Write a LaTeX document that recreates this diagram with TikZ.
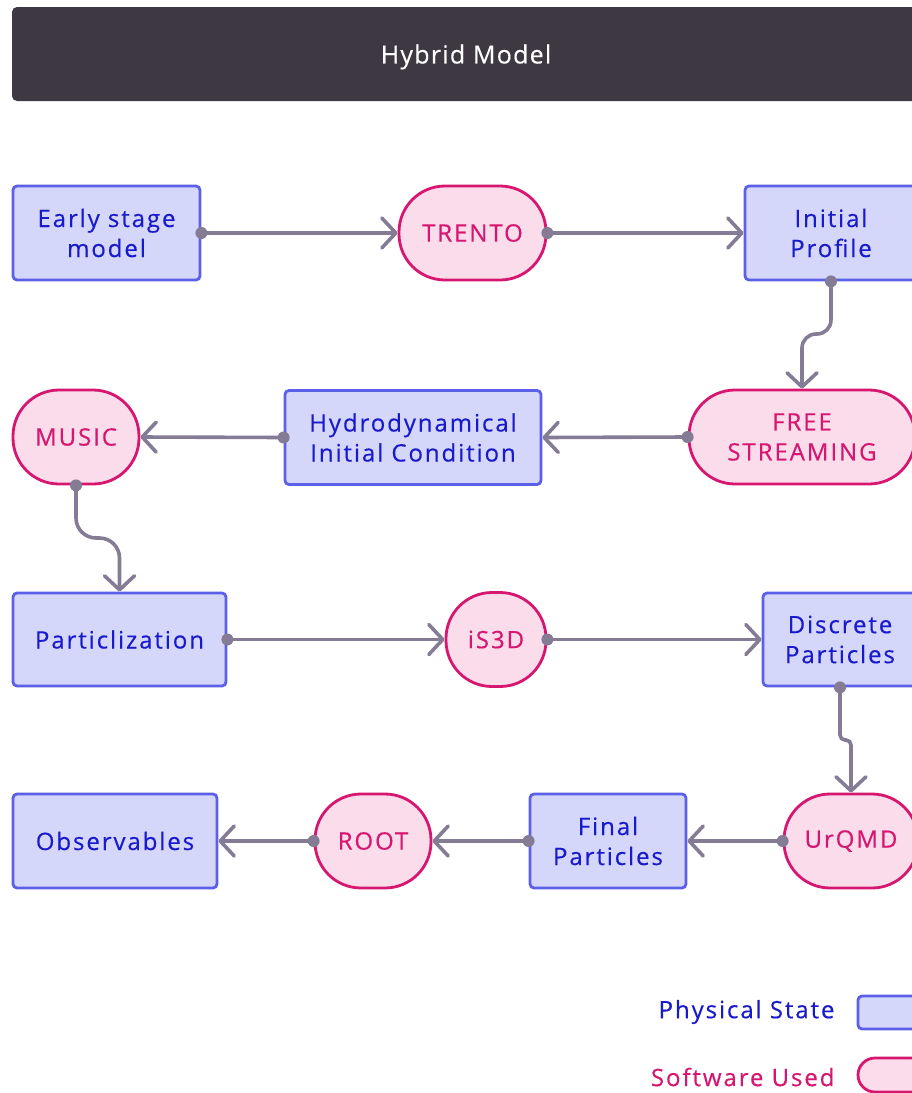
\documentclass[tikz,border=0pt]{standalone}
\usepackage{fontspec}
\setmainfont{Open Sans}
\newfontfamily\nodefont{Open Sans}[LetterSpace=8,FakeBold=0.4]
\newfontfamily\titlefont{Open Sans}[LetterSpace=5,FakeBold=0.3]
\usetikzlibrary{arrows.meta}
\definecolor{boxfill}{RGB}{212,214,250}
\definecolor{boxdraw}{RGB}{92,95,232}
\definecolor{boxtext}{RGB}{26,26,205}
\definecolor{swfill}{RGB}{250,220,235}
\definecolor{swdraw}{RGB}{214,22,111}
\definecolor{conncol}{RGB}{132,123,148}
\definecolor{titlebg}{RGB}{61,56,66}
\tikzset{
  lbl/.style={font=\nodefont\fontsize{24}{30}\selectfont},
  state/.style={lbl, draw=boxdraw, fill=boxfill, text=boxtext, line width=2.8pt, rounded corners=4pt, inner sep=0pt, align=center},
  soft/.style={lbl, draw=swdraw, fill=swfill, text=swdraw, line width=2.8pt, rounded corners=46pt, inner sep=0pt, align=center, minimum height=94pt},
  conn/.style={draw=conncol, line width=3.6pt, line cap=round, -{Straight Barb[length=14pt,width=30pt,line width=3.6pt,line cap=round,round]}},
  dot/.style={fill=conncol},
}
\begin{document}
\begin{tikzpicture}[x=1pt,y=-1pt]
\useasboundingbox (0,0) rectangle (912,1093);
\clip (0,0) rectangle (912,1093);
% title
\node[fill=titlebg, rounded corners=5pt, minimum width=908pt, minimum height=94pt] (title) at (466,54) {};
\node[text=white, font=\titlefont\fontsize{25}{30}\selectfont] (titletext) at (466,57) {Hybrid Model};
% row 1
\node[state, minimum width=187pt, minimum height=94pt] (esm) at (106.5,233) {Early stage\\model};
\node[soft, minimum width=147pt] (trento) at (472.5,233) {TRENTO};
\node[state, minimum width=172pt, minimum height=94pt] (ip) at (831,233) {Initial\\Profile};
% row 2
\node[soft, minimum width=126pt] (music) at (76,437) {MUSIC};
\node[state, minimum width=256pt, minimum height=94pt] (hic) at (413,437.5) {Hydrodynamical\\Initial Condition};
\node[soft, minimum width=226pt] (fs) at (802,437) {FREE\\STREAMING};
% row 3
\node[state, minimum width=213pt, minimum height=93pt] (part) at (119.5,639.5) {Particlization};
\node[soft, minimum width=100pt, rounded corners=46pt] (is3d) at (496,639.5) {iS3D};
\node[state, minimum width=154pt, minimum height=93pt] (dp) at (840,639.5) {Discrete\\Particles};
% row 4
\node[state, minimum width=204pt, minimum height=94pt] (obs) at (115,841) {Observables};
\node[soft, minimum width=116pt] (root) at (373,841) {ROOT};
\node[state, minimum width=156pt, minimum height=94pt] (fp) at (608,841) {Final\\Particles};
\node[soft, minimum width=134pt] (urqmd) at (851,841) {UrQMD};
% legend
\node[lbl, text=boxtext, anchor=east] (lps) at (838,1012) {Physical State};
\node[state, minimum width=70pt, minimum height=33pt] (lstate) at (893,1012.5) {};
\node[lbl, text=swdraw, anchor=east] (lsu) at (838,1077) {Software Used};
\node[soft, minimum width=70pt, minimum height=34pt, rounded corners=17pt] (lsoft) at (893,1075) {};
% connectors
\draw[conn] (esm.east) -- (trento.west);
\draw[conn] (trento.east) -- (ip.west);
\draw[conn, rounded corners=14pt] (ip.south) -- (ip.south |- 0,334) -- (fs.north |- 0,334) -- (fs.north);
\draw[conn] (fs.west) -- (hic.east);
\draw[conn] (hic.west) -- (music.east);
\draw[conn, rounded corners=20pt] (music.south) -- (music.south |- 0,538) -- (part.north |- 0,538) -- (part.north);
\draw[conn] (part.east) -- (is3d.west);
\draw[conn] (is3d.east) -- (dp.west);
\draw[conn, rounded corners=5pt] (dp.south) -- (dp.south |- 0,740) -- (urqmd.north |- 0,740) -- (urqmd.north);
\draw[conn] (urqmd.west) -- (fp.east);
\draw[conn] (fp.west) -- (root.east);
\draw[conn] (root.west) -- (obs.east);
% dots
\foreach \p in {esm.east, trento.east, ip.south, fs.west, hic.west, music.south, part.east, is3d.east, dp.south, urqmd.west, fp.west, root.west}
  \fill[dot] (\p) circle (6pt);
\end{tikzpicture}
\end{document}
